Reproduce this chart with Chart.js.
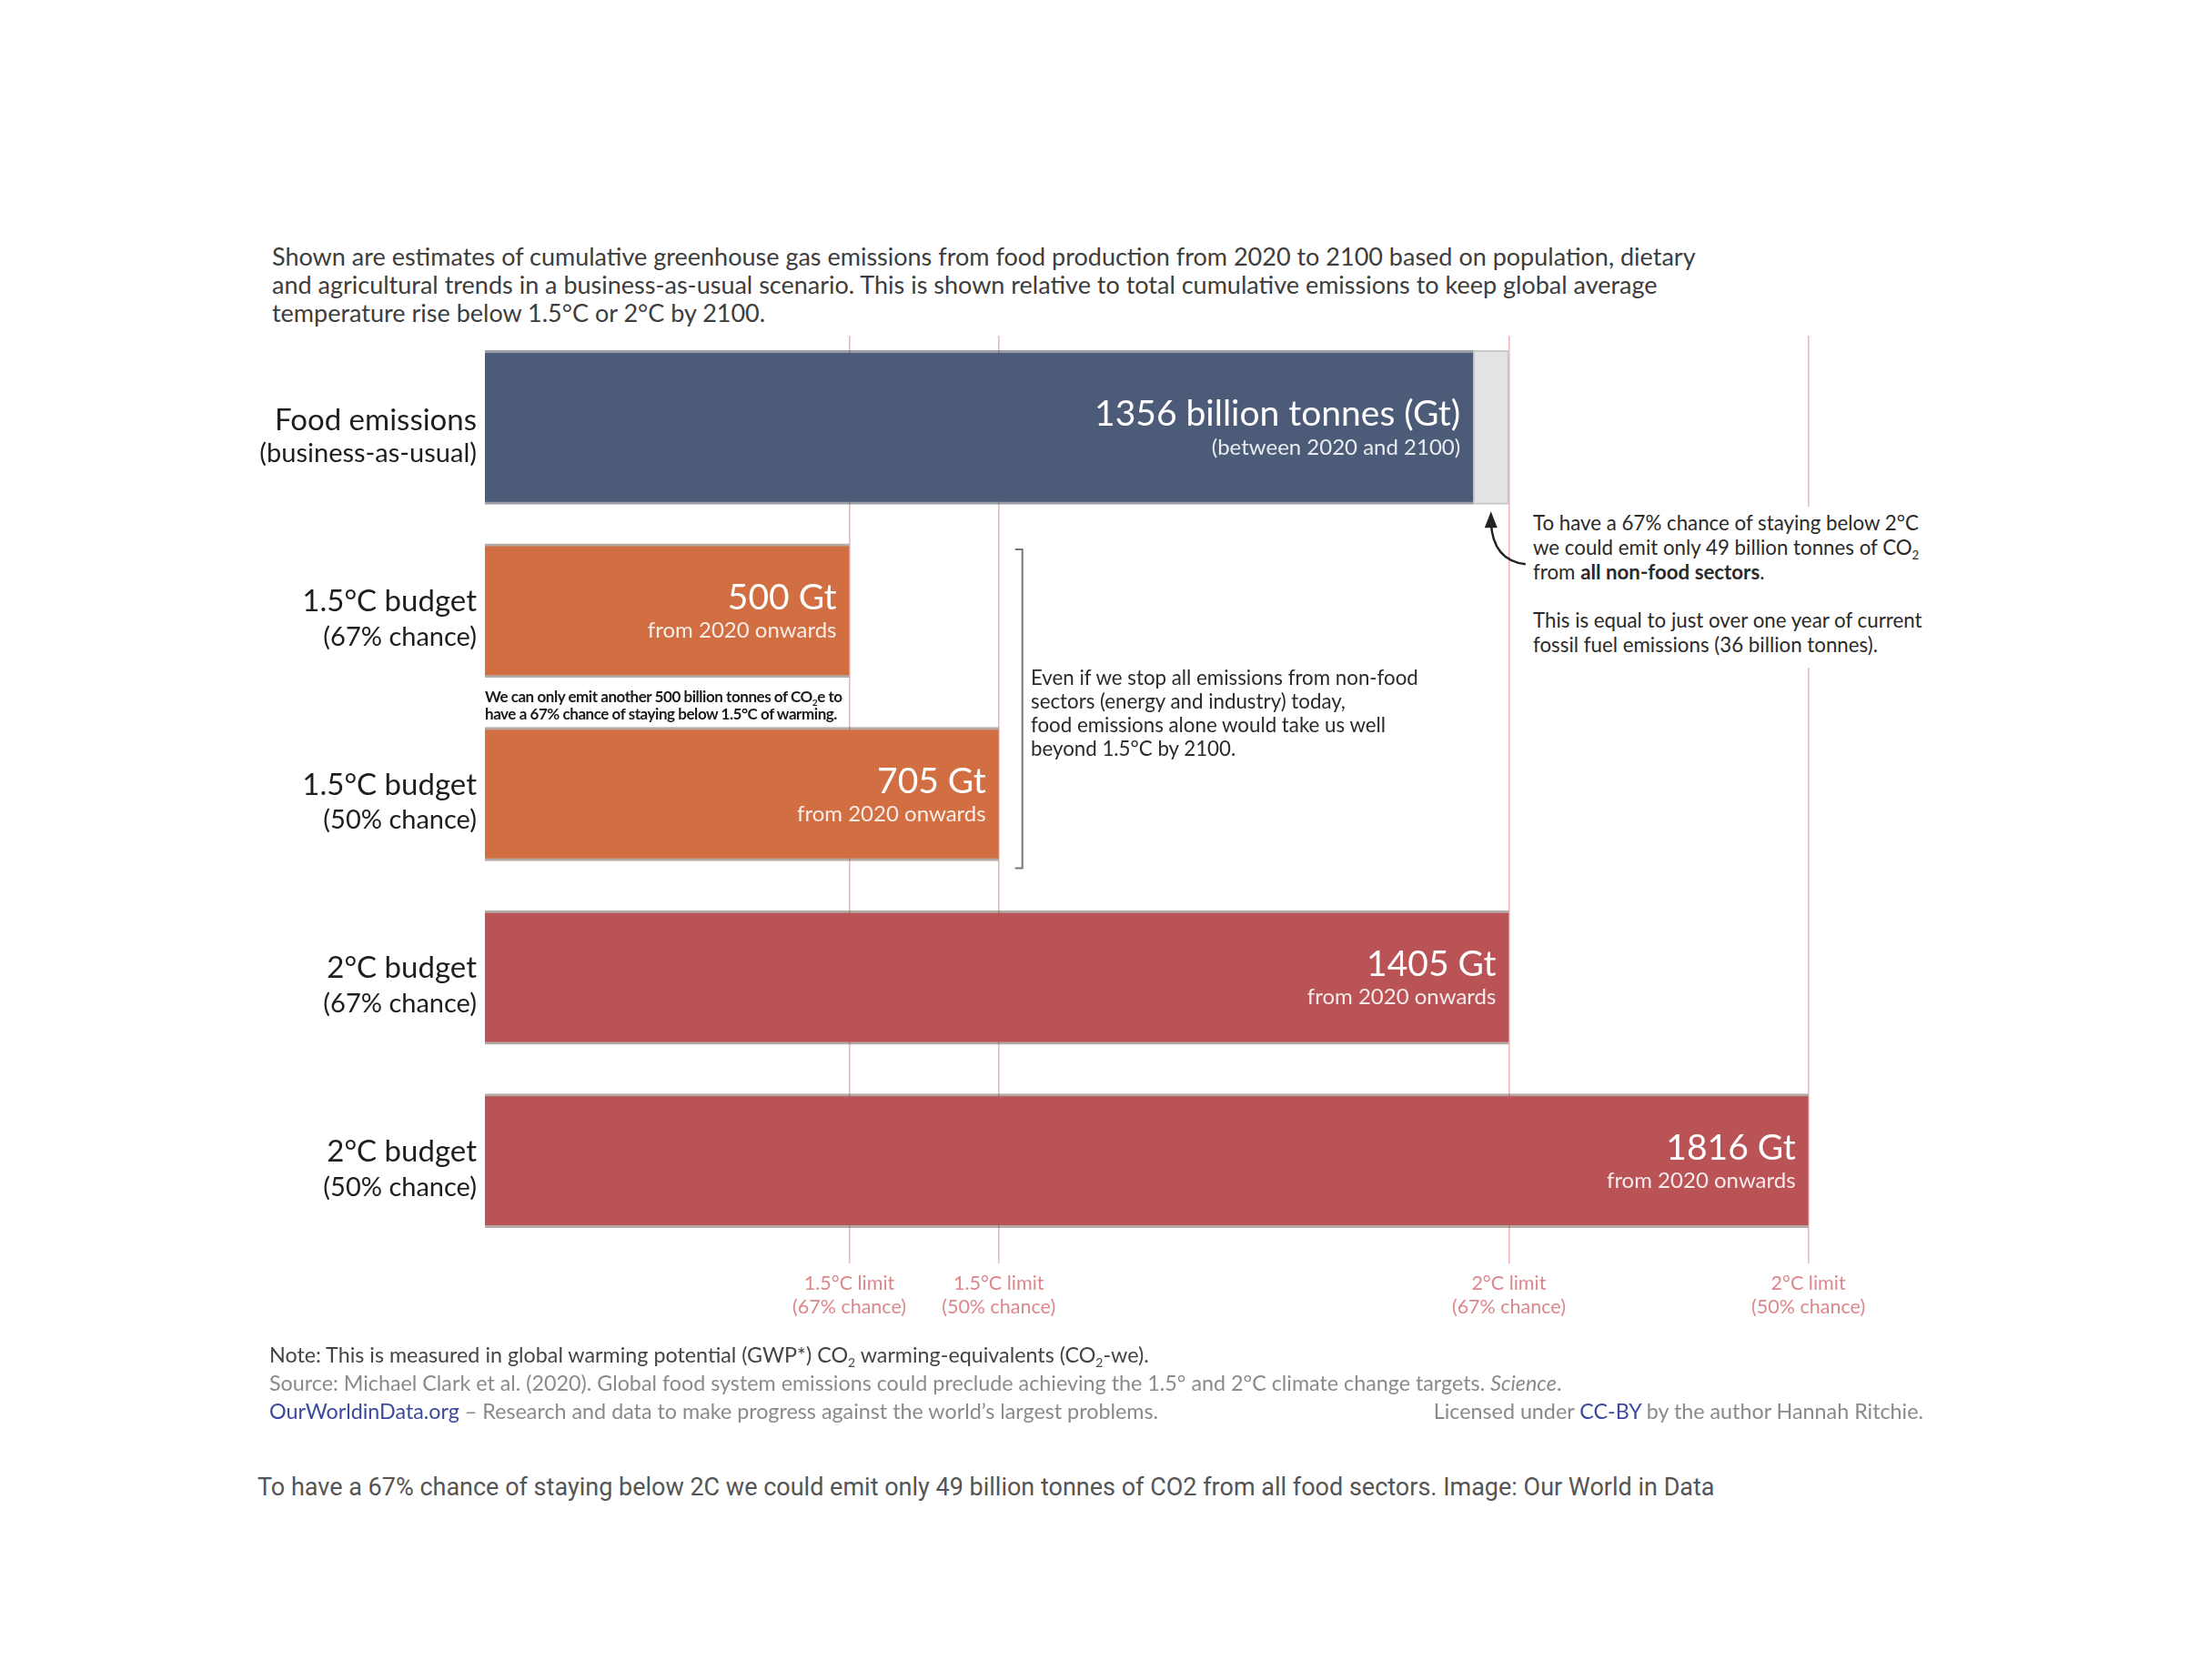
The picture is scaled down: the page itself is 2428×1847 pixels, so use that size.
<!DOCTYPE html>
<html lang="en">
<head>
  <meta charset="UTF-8">
  <title>Food emissions and carbon budgets</title>
  <script src="https://cdn.jsdelivr.net/npm/chart.js"></script>
  <style>
    body { margin: 0; background: #fff; width: 2428px; height: 1847px; position: relative; overflow: hidden; font-family: Lato, "Noto Sans", sans-serif; }
    #wrap { position: absolute; left: 0; top: 0; width: 2428px; height: 1480px; }
    .txt { position: absolute; white-space: nowrap; }
    sub { font-size: 60%; vertical-align: -0.35em; line-height: 0; }
    #title { left: 299px; top: 266px; font-size: 27px; line-height: 31px; color: #3d3d3d; }
    #noteRight { left: 1680px; top: 557px; font-size: 22.3px; line-height: 27px; color: #2a2a2a; background: #fff; padding: 4px 6px 12px 5px; }
    #noteRight p { margin: 0; }
    #noteRight p + p { margin-top: 26px; }
    #noteMid { left: 1133px; top: 732px; font-size: 22.3px; line-height: 26px; color: #2a2a2a; }
    #noteSmall { left: 533px; top: 756px; font-size: 17px; line-height: 19px; color: #1a1a1a; letter-spacing: -0.45px; font-weight: bold; }
    #foot { left: 296px; top: 1474px; font-size: 23.3px; line-height: 31px; color: #8a8a8a; width: 1818px; }
    #foot .note { color: #444; }
    #foot .blue { color: #3b4a9e; }
    #foot .right { position: absolute; right: 0; top: 62px; }
    #caption { left: 283px; top: 1619px; font-family: Roboto, "Noto Sans", sans-serif; font-size: 27px; line-height: 32px; color: #555; }
  </style>
</head>
<body>
  <div id="title" class="txt">
    Shown are estimates of cumulative greenhouse gas emissions from food production from 2020 to 2100 based on population, dietary<br>
    and agricultural trends in a business-as-usual scenario. This is shown relative to total cumulative emissions to keep global average<br>
    temperature rise below 1.5°C or 2°C by 2100.
  </div>

  <div id="wrap"><canvas id="chart"></canvas></div>

  <div id="noteRight" class="txt">
    <p>To have a 67% chance of staying below 2°C<br>we could emit only 49 billion tonnes of CO<sub>2</sub><br>from <b>all non-food sectors</b>.</p>
    <p>This is equal to just over one year of current<br>fossil fuel emissions (36 billion tonnes).</p>
  </div>

  <div id="noteMid" class="txt">
    Even if we stop all emissions from non-food<br>
    sectors (energy and industry) today,<br>
    food emissions alone would take us well<br>
    beyond 1.5°C by 2100.
  </div>

  <div id="noteSmall" class="txt">
    We can only emit another 500 billion tonnes of CO<sub>2</sub>e to<br>
    have a 67% chance of staying below 1.5°C of warming.
  </div>

  <div id="foot" class="txt">
    <div class="note">Note: This is measured in global warming potential (GWP*) CO<sub>2</sub> warming-equivalents (CO<sub>2</sub>-we).</div>
    <div>Source: Michael Clark et al. (2020). Global food system emissions could preclude achieving the 1.5° and 2°C climate change targets. <i>Science</i>.</div>
    <div><span class="blue">OurWorldinData.org</span> – Research and data to make progress against the world’s largest problems.</div>
    <div class="right">Licensed under <span class="blue">CC-BY</span> by the author Hannah Ritchie.</div>
  </div>

  <div id="caption" class="txt">To have a 67% chance of staying below 2C we could emit only 49 billion tonnes of CO2 from all food sectors. Image: Our World in Data</div>

  <script>
    // categories (left labels: name, chance)
    const categories = [
      ['Food emissions', '(business-as-usual)'],
      ['1.5°C budget', '(67% chance)'],
      ['1.5°C budget', '(50% chance)'],
      ['2°C budget', '(67% chance)'],
      ['2°C budget', '(50% chance)']
    ];

    // values in billion tonnes (Gt)
    const foodEmissions = 1356;
    const budgets = [500, 705, 1405, 1816];
    const limitLabels = [
      ['1.5°C limit', '(67% chance)'],
      ['1.5°C limit', '(50% chance)'],
      ['2°C limit', '(67% chance)'],
      ['2°C limit', '(50% chance)']
    ];
    const foodSub = '(between 2020 and 2100)';
    const budgetSub = 'from 2020 onwards';

    const orange = '#d16f43';
    const red = '#b95355';
    const budgetColors = [orange, orange, red, red];

    // two-line category labels, placed on the y scale
    const catLabels = {
      id: 'catLabels',
      afterDraw(chart) {
        const ctx = chart.ctx;
        const y = chart.scales.y;
        const right = chart.chartArea.left - 9;
        ctx.save();
        ctx.textAlign = 'right';
        ctx.textBaseline = 'middle';
        ctx.fillStyle = '#1e1e1e';
        categories.forEach((c, i) => {
          const cy = y.getPixelForValue(i);
          ctx.font = '33px Lato';
          ctx.fillText(c[0], right, cy - (i === 0 ? 7 : 10));
          ctx.font = '29px Lato';
          ctx.fillText(c[1], right, cy + 29);
        });
        ctx.restore();
      }
    };

    // text inside the bars, arrow and bracket
    const barText = {
      id: 'barText',
      afterDatasetsDraw(chart) {
        const ctx = chart.ctx;
        const put = (bar, main, sub) => {
          ctx.save();
          ctx.textAlign = 'right';
          ctx.textBaseline = 'middle';
          ctx.fillStyle = '#fff';
          ctx.font = '39px Lato';
          ctx.fillText(main, bar.x - 14, bar.y - 14);
          ctx.fillStyle = 'rgba(255,255,255,0.88)';
          ctx.font = '24px Lato';
          ctx.fillText(sub, bar.x - 14, bar.y + 22);
          ctx.restore();
        };
        const food = chart.getDatasetMeta(0).data[0];
        put(food, foodEmissions + ' billion tonnes (Gt)', foodSub);
        const meta = chart.getDatasetMeta(2);
        budgets.forEach((v, i) => put(meta.data[i + 1], v + ' Gt', budgetSub));
      },
      afterDraw(chart) {
        const ctx = chart.ctx;
        const gap = chart.getDatasetMeta(1).data[0];
        const tipX = (gap.x + gap.base) / 2;
        const tipY = gap.y + gap.height / 2 + 8;
        ctx.save();
        ctx.strokeStyle = '#222';
        ctx.fillStyle = '#222';
        ctx.lineWidth = 2.5;
        ctx.beginPath();
        ctx.moveTo(tipX + 38, tipY + 58);
        ctx.quadraticCurveTo(tipX + 2, tipY + 54, tipX, tipY + 12);
        ctx.stroke();
        ctx.beginPath();
        ctx.moveTo(tipX, tipY);
        ctx.lineTo(tipX - 7, tipY + 18);
        ctx.lineTo(tipX + 7, tipY + 18);
        ctx.closePath();
        ctx.fill();

        const m = chart.getDatasetMeta(2);
        const b1 = m.data[1], b2 = m.data[2];
        const bx = b2.x + 26;
        const top = b1.y - b1.height / 2 + 6;
        const bottom = b2.y + b2.height / 2 + 8;
        ctx.strokeStyle = '#777';
        ctx.lineWidth = 2;
        ctx.beginPath();
        ctx.moveTo(bx - 8, top);
        ctx.lineTo(bx, top);
        ctx.lineTo(bx, bottom);
        ctx.lineTo(bx - 8, bottom);
        ctx.stroke();
        ctx.restore();
      }
    };

    const edge = { top: 3, bottom: 3, left: 0, right: 0 };

    new Chart(document.getElementById('chart'), {
      type: 'bar',
      data: {
        labels: categories,
        datasets: [
          {
            data: [foodEmissions, null, null, null, null],
            backgroundColor: '#4b5b78',
            borderColor: 'rgba(30,40,60,0.45)',
            borderWidth: edge,
            borderSkipped: false,
            barThickness: 169,
            grouped: false
          },
          {
            data: [[foodEmissions, budgets[2]], null, null, null, null],
            backgroundColor: '#e3e3e3',
            borderColor: '#c8c8c8',
            borderWidth: 2,
            borderSkipped: false,
            barThickness: 169,
            grouped: false
          },
          {
            data: [null].concat(budgets),
            backgroundColor: [null].concat(budgetColors),
            borderColor: 'rgba(70,40,30,0.4)',
            borderWidth: edge,
            borderSkipped: false,
            barThickness: 147,
            grouped: false
          }
        ]
      },
      options: {
        indexAxis: 'y',
        responsive: true,
        maintainAspectRatio: false,
        animation: false,
        layout: { padding: { top: 369, right: 293, bottom: 3, left: 0 } },
        plugins: { legend: { display: false }, tooltip: { enabled: false } },
        scales: {
          x: {
            min: 0,
            max: 2000,
            afterBuildTicks(s) { s.ticks = budgets.map(v => ({ value: v })); },
            afterFit(s) { s.height = 100; },
            ticks: {
              callback: (v, i) => limitLabels[i],
              font: { family: 'Lato', size: 21.5 },
              color: '#dc878b',
              padding: 9,
              autoSkip: false,
              maxRotation: 0
            },
            grid: { color: '#f0b6b8', lineWidth: 1.6, tickLength: 12 },
            border: { display: false }
          },
          y: {
            afterFit(s) { s.width = 533; },
            ticks: { display: false },
            grid: { display: false, drawTicks: false },
            border: { display: false }
          }
        }
      },
      plugins: [barText, catLabels]
    });
  </script>
</body>
</html>
